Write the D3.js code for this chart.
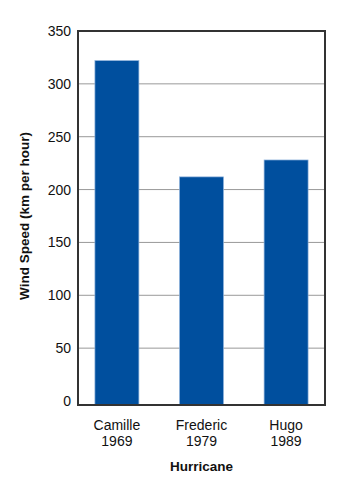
<!DOCTYPE html>
<html lang="en">
<head>
<meta charset="UTF-8">
<title>Hurricane Wind Speed</title>
<script src="https://d3js.org/d3.v7.min.js"></script>
<style>
  body { margin: 0; background: #fff; }
  text { font-family: "Liberation Sans", Arial, Helvetica, sans-serif; fill: #111; }
</style>
</head>
<body>
<div id="chart"></div>
<script>
// data
var names = ["Camille", "Frederic", "Hugo"];
var years = ["1969", "1979", "1989"];
var speeds = [322, 212, 228];
var yTicks = [0, 50, 100, 150, 200, 250, 300, 350];

// dimensions
var margin = {top: 31, right: 35, bottom: 76, left: 78},
    width = 360 - margin.left - margin.right,
    height = 481 - margin.top - margin.bottom,
    zeroY = height - 4;   // zero line sits a bit above the frame bottom

var svg = d3.select("#chart")
  .append("svg")
    .attr("width", 360)
    .attr("height", 481)
  .append("g")
    .attr("transform", "translate(" + margin.left + "," + margin.top + ")");

var x = d3.scaleBand()
  .domain(names)
  .range([0, width])
  .paddingInner(0.48)
  .paddingOuter(0.2);

var y = d3.scaleLinear()
  .domain([0, 350])
  .range([zeroY, 0]);

// gridlines
svg.append("g")
  .selectAll("line")
  .data(yTicks.filter(function(d) { return d > 0 && d < 350; }))
  .enter()
  .append("line")
    .attr("x1", 0)
    .attr("x2", width)
    .attr("y1", function(d) { return y(d); })
    .attr("y2", function(d) { return y(d); })
    .attr("stroke", "#999")
    .attr("stroke-width", 1);

// bars
svg.append("g")
  .selectAll("rect")
  .data(speeds)
  .enter()
  .append("rect")
    .attr("x", function(d, i) { return x(names[i]); })
    .attr("y", function(d) { return y(d); })
    .attr("width", x.bandwidth())
    .attr("height", function(d) { return height - y(d); })
    .attr("fill", "#004f9e")
    .attr("stroke", "#8fb3dc")
    .attr("stroke-width", 0.7);

// y axis labels
var yAxis = svg.append("g")
  .call(d3.axisLeft(y).tickValues(yTicks).tickSize(0).tickPadding(7));
yAxis.select(".domain").remove();
yAxis.selectAll("text")
  .style("font-size", "14px")
  .attr("fill", "#111");

// frame
svg.append("rect")
  .attr("x", 0)
  .attr("y", 0)
  .attr("width", width)
  .attr("height", height)
  .attr("fill", "none")
  .attr("stroke", "#333")
  .attr("stroke-width", 2);

// x labels (two lines)
var xl = svg.append("g")
  .selectAll("text")
  .data(names)
  .enter()
  .append("text")
    .attr("x", function(d) { return x(d) + x.bandwidth() / 2; })
    .attr("y", height + 25)
    .attr("text-anchor", "middle")
    .style("font-size", "14px");
xl.append("tspan")
  .attr("x", function(d) { return x(d) + x.bandwidth() / 2; })
  .text(function(d) { return d; });
xl.append("tspan")
  .attr("x", function(d) { return x(d) + x.bandwidth() / 2; })
  .attr("dy", 16)
  .text(function(d, i) { return years[i]; });

// axis titles
svg.append("text")
  .attr("x", width / 2)
  .attr("y", height + 66)
  .attr("text-anchor", "middle")
  .style("font-size", "13.5px")
  .style("font-weight", "bold")
  .text("Hurricane");

svg.append("text")
  .attr("transform", "translate(-49," + (zeroY / 2) + ") rotate(-90)")
  .attr("text-anchor", "middle")
  .style("font-size", "13.5px")
  .style("font-weight", "bold")
  .text("Wind Speed (km per hour)");
</script>
</body>
</html>
